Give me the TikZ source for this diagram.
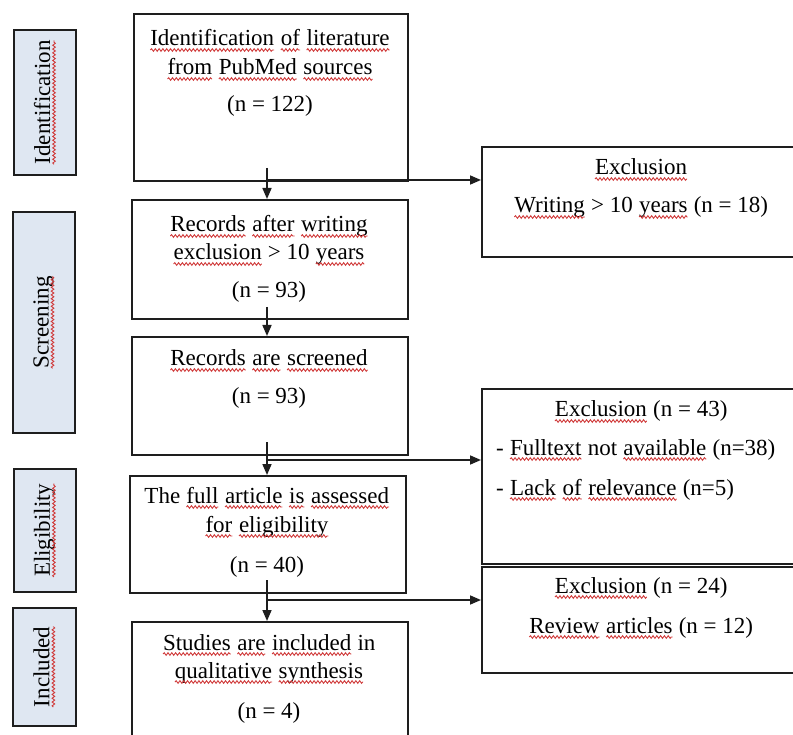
\documentclass[tikz,border=0pt]{standalone}
\usepackage{fontspec}
\setmainfont{Liberation Serif}
\usetikzlibrary{arrows.meta,decorations.pathmorphing}
\definecolor{sidefill}{HTML}{DFE7F2}
\definecolor{squig}{HTML}{D03A3A}
\definecolor{linec}{HTML}{1E1E1E}
\newcommand\sq[1]{\tikz[reset cm, x=1pt, y=1pt, baseline=(w.base)]{%
  \node[inner sep=0pt, outer sep=0pt, anchor=base, draw=none, fill=none] (w) at (0,0) {#1};%
  \draw[squig, line width=0.9pt, decorate, decoration={snake, amplitude=1.3pt, segment length=3.8pt}]
    ([yshift=-4pt]w.base west) -- ([yshift=-4pt]w.base east);}}
\tikzset{
  box/.style={draw=linec, line width=1.6pt, inner sep=0pt, anchor=north west, fill=white},
  side/.style={box, fill=sidefill},
  txt/.style={anchor=base, inner sep=0pt},
  ltxt/.style={anchor=base west, inner sep=0pt},
  rtxt/.style={rotate=90, inner sep=0pt},
  conn/.style={line width=1.6pt, draw=linec},
  arr/.style={conn, -{Triangle[length=11pt,width=9pt]}},
}
\begin{document}
\begin{tikzpicture}[x=1pt, y=-1pt, font=\fontsize{23}{29}\selectfont]
\useasboundingbox (0,0) rectangle (793,735);
\clip (0,0) rectangle (793,735);
\fill[white] (0,0) rectangle (793,735);

% side boxes
\node[side, minimum width=62pt, minimum height=145pt] (sid) at (13,29) {};
\node[side, minimum width=62pt, minimum height=221pt] (sscr) at (12,211) {};
\node[side, minimum width=62pt, minimum height=123pt] (selig) at (13,468) {};
\node[side, minimum width=63pt, minimum height=118pt] (sinc) at (12,607) {};
\node[rtxt] (tid) at (sid.center) {\sq{Identification}};
\node[rtxt] (tscr) at (sscr.center) {\sq{Screening}};
\node[rtxt] (telig) at (selig.center) {\sq{Eligibility}};
\node[rtxt] (tinc) at (sinc.center) {\sq{Included}};

% main boxes
\node[box, minimum width=274pt, minimum height=167pt] (b1) at (133,13) {};
\node[box, minimum width=276pt, minimum height=119pt] (b2) at (131,199) {};
\node[box, minimum width=276pt, minimum height=118pt] (b3) at (131,336) {};
\node[box, minimum width=276pt, minimum height=117pt] (b4) at (129,475) {};
\node[box, minimum width=276pt, minimum height=130pt] (b5) at (131,621) {};

% exclusion boxes
\node[box, minimum width=330pt, minimum height=110pt] (e1) at (481,146) {};
\node[box, minimum width=330pt, minimum height=175pt] (e2) at (481,388) {};
\node[box, minimum width=330pt, minimum height=106pt] (e3) at (481,566) {};

% texts main
\node[txt] (b1a) at (270,46) {\sq{Identification} \sq{of} \sq{literature}};
\node[txt] (b1b) at (270,75) {\sq{from} \sq{PubMed} \sq{sources}};
\node[txt] (b1c) at (270,112) {(n = 122)};

\node[txt] (b2a) at (269,232) {\sq{Records} \sq{after} \sq{writing}};
\node[txt] (b2b) at (269,260) {\sq{exclusion} > 10 \sq{years}};
\node[txt] (b2c) at (269,298) {(n = 93)};

\node[txt] (b3a) at (269,366) {\sq{Records} \sq{are} \sq{screened}};
\node[txt] (b3b) at (269,403) {(n = 93)};

\node[txt] (b4a) at (267,503) {The \sq{full} \sq{article} \sq{is} \sq{assessed}};
\node[txt] (b4b) at (267,532) {\sq{for} \sq{eligibility}};
\node[txt] (b4c) at (267,572) {(n = 40)};

\node[txt] (b5a) at (269,650) {\sq{Studies} \sq{are} \sq{included} in};
\node[txt] (b5b) at (269,678) {\sq{qualitative} \sq{synthesis}};
\node[txt] (b5c) at (269,718) {(n = 4)};

% texts exclusion
\node[txt] (e1a) at (641,175) {\sq{Exclusion}};
\node[txt] (e1b) at (641,213) {\sq{Writing} > 10 \sq{years} (n = 18)};

\node[txt] (e2a) at (641,417) {\sq{Exclusion} (n = 43)};
\node[ltxt] (e2b) at (496,455) {- \sq{Fulltext} not \sq{available} (n=38)};
\node[ltxt] (e2c) at (496,495) {- \sq{Lack} \sq{of} \sq{relevance} (n=5)};

\node[txt] (e3a) at (641,593) {\sq{Exclusion} (n = 24)};
\node[txt] (e3b) at (641,633) {\sq{Review} \sq{articles} (n = 12)};

% connectors
\coordinate (s1) at (267,168);
\coordinate (s2) at (267,307);
\coordinate (s3) at (267,442);
\coordinate (s4) at (267,580);
\coordinate (k1) at (267,180);
\coordinate (k3) at (267,460);
\coordinate (k4) at (267,600);
\draw[arr] (s1) -- (s1 |- b2.north);
\draw[arr] (k1) -- (k1 -| e1.west);
\draw[arr] (s2) -- (s2 |- b3.north);
\draw[arr] (s3) -- (s3 |- b4.north);
\draw[arr] (k3) -- (k3 -| e2.west);
\draw[arr] (s4) -- (s4 |- b5.north);
\draw[arr] (k4) -- (k4 -| e3.west);
\end{tikzpicture}
\end{document}
